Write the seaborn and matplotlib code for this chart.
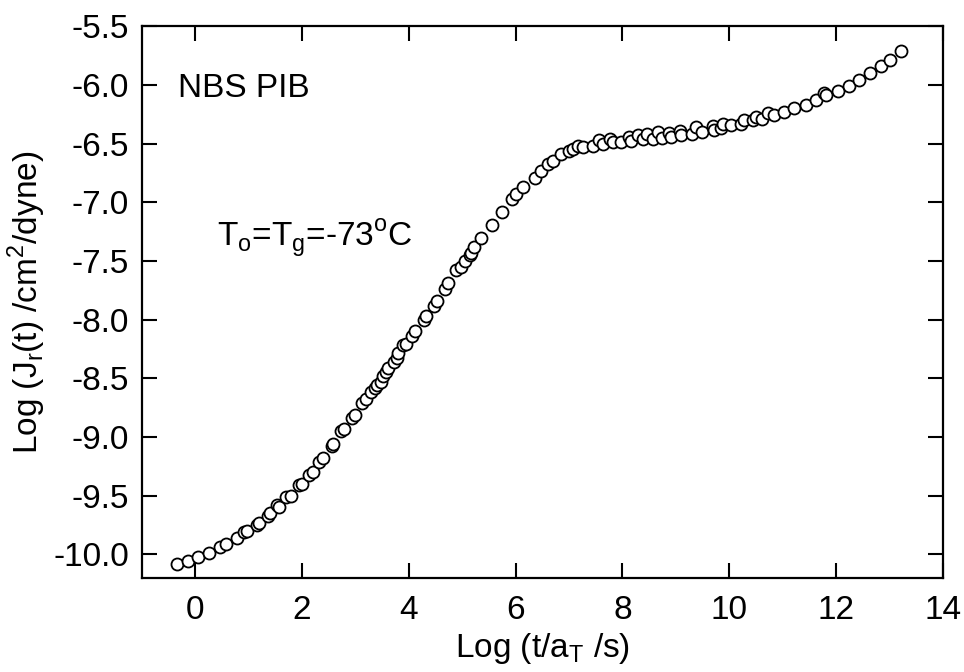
import matplotlib
matplotlib.use("Agg")
import matplotlib.pyplot as plt
import seaborn as sns
import pandas as pd

log_t = [-0.34, -0.14, 0.06, 0.26, 0.47, 0.58, 0.79, 0.92, 0.98, 1.15, 1.20, 1.37, 1.40,
         1.53, 1.58, 1.71, 1.79, 1.95, 2.00, 2.14, 2.20, 2.32, 2.39, 2.57, 2.59, 2.74,
         2.79, 2.93, 2.99, 3.13, 3.20, 3.30, 3.36, 3.40, 3.49, 3.52, 3.58, 3.61, 3.72,
         3.78, 3.80, 3.89, 3.94, 4.06, 4.11, 4.28, 4.33, 4.47, 4.52, 4.68, 4.73, 4.89,
         4.97, 5.06, 5.14, 5.17, 5.23, 5.36, 5.56, 5.74, 5.93, 6.00, 6.14, 6.36, 6.48,
         6.60, 6.70, 6.85, 7.01, 7.07, 7.17, 7.26, 7.45, 7.57, 7.63, 7.76, 7.82, 7.98,
         8.13, 8.16, 8.29, 8.38, 8.47, 8.57, 8.66, 8.75, 8.88, 8.91, 9.07, 9.10, 9.31,
         9.38, 9.50, 9.69, 9.72, 9.84, 9.88, 10.03, 10.22, 10.28, 10.44, 10.50, 10.62,
         10.72, 10.84, 11.03, 11.21, 11.43, 11.63, 11.78, 11.81, 12.04, 12.24, 12.43,
         12.63, 12.84, 13.02, 13.21]
log_J = [-10.08, -10.06, -10.02, -9.99, -9.94, -9.91, -9.86, -9.81, -9.80, -9.75, -9.73,
         -9.67, -9.65, -9.58, -9.60, -9.51, -9.50, -9.41, -9.40, -9.32, -9.30, -9.21,
         -9.18, -9.08, -9.06, -8.95, -8.93, -8.84, -8.81, -8.71, -8.68, -8.62, -8.58,
         -8.56, -8.53, -8.48, -8.45, -8.41, -8.36, -8.33, -8.28, -8.22, -8.21, -8.14,
         -8.10, -8.00, -7.97, -7.88, -7.84, -7.74, -7.69, -7.58, -7.55, -7.50, -7.45,
         -7.43, -7.38, -7.30, -7.19, -7.08, -6.97, -6.93, -6.87, -6.79, -6.73, -6.67,
         -6.65, -6.59, -6.56, -6.55, -6.52, -6.53, -6.52, -6.47, -6.50, -6.46, -6.49,
         -6.49, -6.44, -6.48, -6.43, -6.46, -6.42, -6.46, -6.40, -6.45, -6.41, -6.44,
         -6.39, -6.43, -6.42, -6.36, -6.40, -6.35, -6.38, -6.37, -6.33, -6.34, -6.33,
         -6.30, -6.30, -6.27, -6.29, -6.24, -6.26, -6.23, -6.20, -6.17, -6.13, -6.07,
         -6.09, -6.05, -6.01, -5.96, -5.90, -5.84, -5.79, -5.71]

x_ticks = [0, 2, 4, 6, 8, 10, 12, 14]
y_ticks = [-10.0, -9.5, -9.0, -8.5, -8.0, -7.5, -7.0, -6.5, -6.0, -5.5]

df = pd.DataFrame({"x": log_t, "y": log_J})

sns.set_style("ticks")
plt.rcParams['font.family'] = ['Liberation Sans', 'DejaVu Sans']
plt.rcParams['mathtext.fontset'] = 'custom'
plt.rcParams['mathtext.rm'] = 'Liberation Sans'
plt.rcParams['text.color'] = 'black'
plt.rcParams['axes.labelcolor'] = 'black'

FS = 24

fig = plt.figure(figsize=(9.64, 6.72), dpi=100)
ax = fig.add_axes([0.147, 0.140, 0.831, 0.821])

sns.scatterplot(data=df, x="x", y="y", ax=ax, marker="o", s=75,
                facecolor="white", edgecolor="black", linewidth=1.3, zorder=3)

ax.set_xlim(-1, 14)
ax.set_ylim(-10.2, -5.5)
ax.set_xticks(x_ticks)
ax.set_xticklabels([str(v) for v in x_ticks])
ax.set_yticks(y_ticks)
ax.set_yticklabels([f"{v:.1f}" for v in y_ticks])

for s in ax.spines.values():
    s.set_visible(True)
    s.set_linewidth(1.6)
    s.set_color("black")

ax.tick_params(direction="in", length=11, width=1.5, top=True, right=True,
               labelsize=FS, colors="black")
ax.tick_params(axis="x", pad=12)
ax.tick_params(axis="y", pad=9)

ax.set_xlabel("Log (t/a$_\\mathregular{T}$ /s)", fontsize=FS, labelpad=4)
ax.set_ylabel("Log (J$_\\mathregular{r}$(t) /cm$^\\mathregular{2}$/dyne)", fontsize=FS, labelpad=4)

ax.text(-0.32, -6.10, "NBS PIB", fontsize=FS, ha="left", va="baseline")
ax.text(0.41, -7.37, "T$_\\mathregular{o}$=T$_\\mathregular{g}$=-73$^\\mathregular{o}$C",
        fontsize=FS, ha="left", va="baseline")

fig.savefig("out.png", dpi=100)
